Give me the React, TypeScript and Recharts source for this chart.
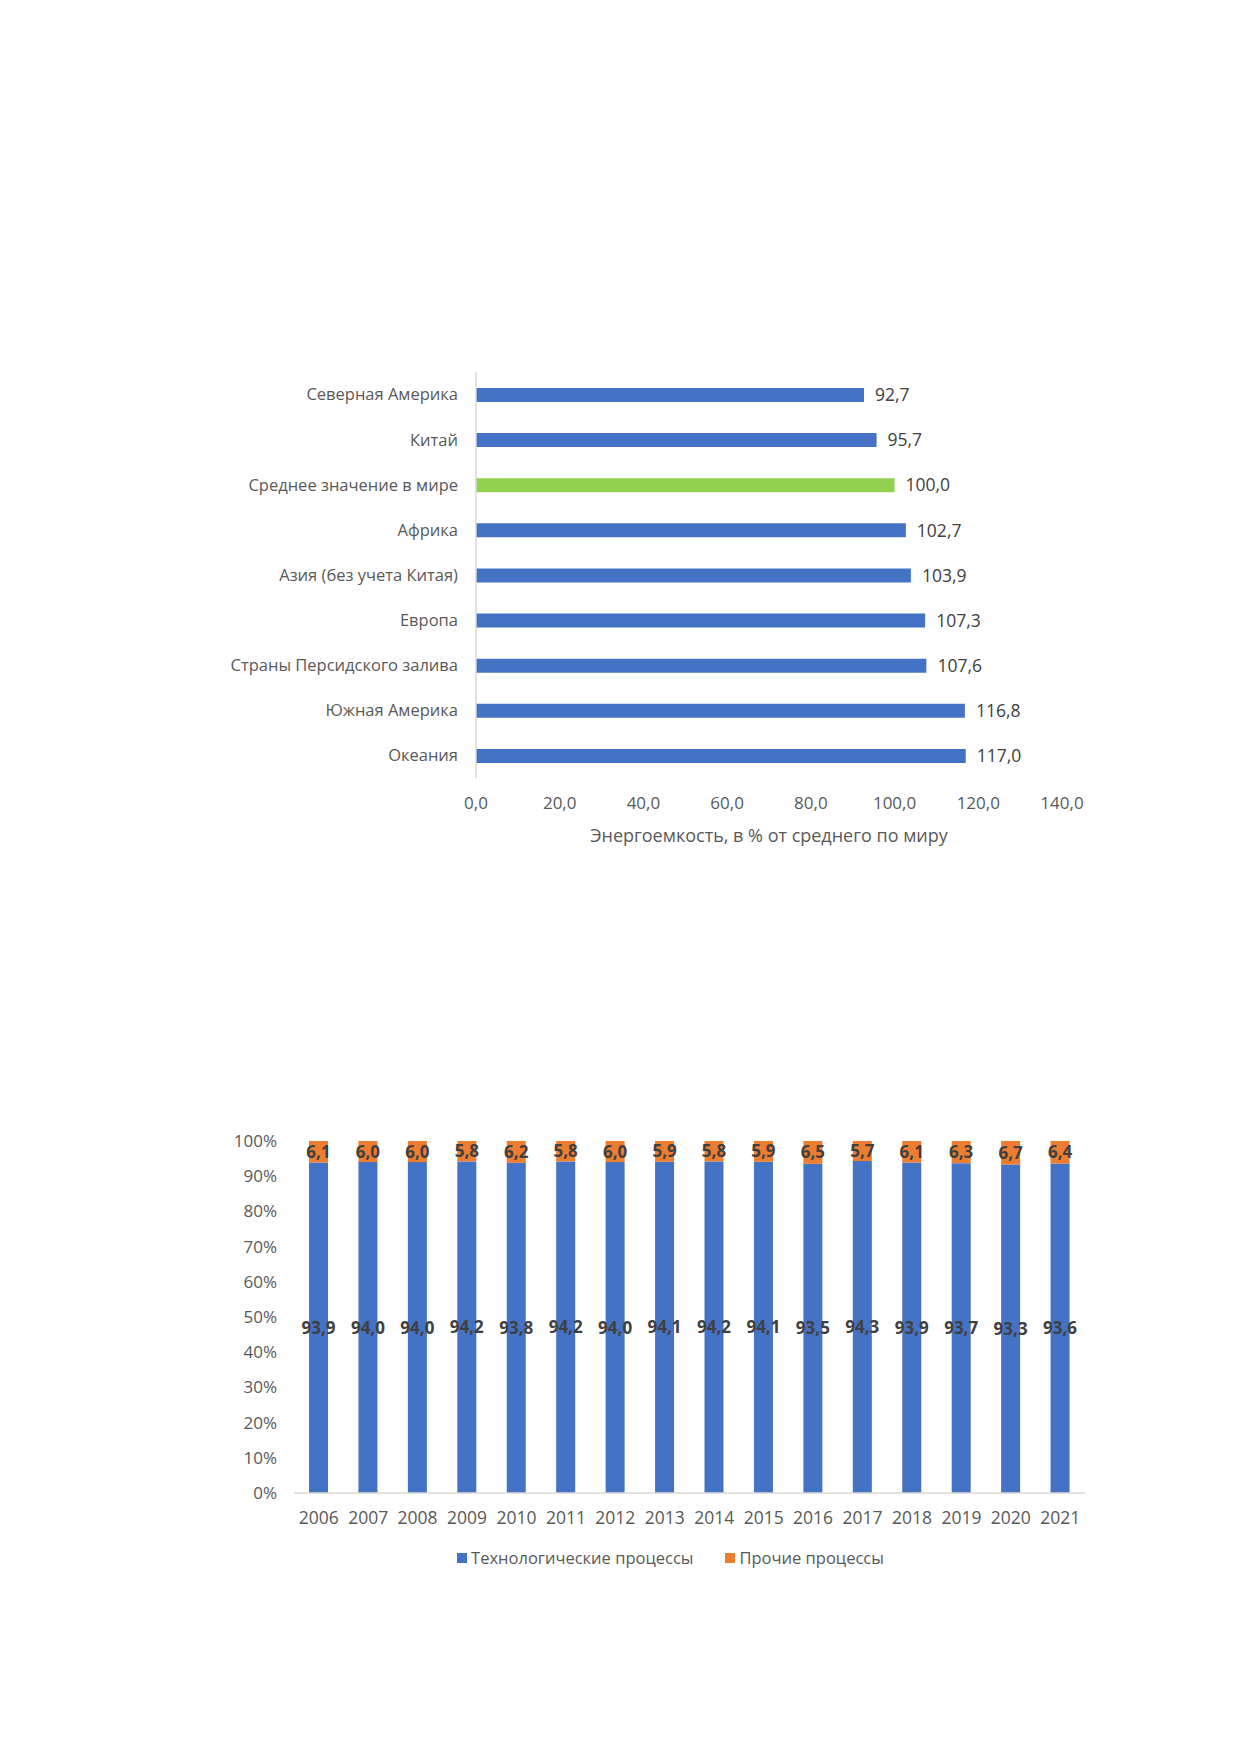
import React from 'react'
import { BarChart, Bar, XAxis, YAxis, Cell, LabelList, Legend } from 'recharts'

const FONT = '"Open Sans", sans-serif'

// energy intensity by region, % of world average
const regions = [
  'Северная Америка',
  'Китай',
  'Среднее значение в мире',
  'Африка',
  'Азия (без учета Китая)',
  'Европа',
  'Страны Персидского залива',
  'Южная Америка',
  'Океания'
]
const intensity = [92.7, 95.7, 100.0, 102.7, 103.9, 107.3, 107.6, 116.8, 117.0]
const intensityTicks = [0, 20, 40, 60, 80, 100, 120, 140]
const highlighted = 'Среднее значение в мире'

// share of processes by year, %
const years = ['2006', '2007', '2008', '2009', '2010', '2011', '2012', '2013', '2014', '2015', '2016', '2017', '2018', '2019', '2020', '2021']
const techShare = [93.9, 94.0, 94.0, 94.2, 93.8, 94.2, 94.0, 94.1, 94.2, 94.1, 93.5, 94.3, 93.9, 93.7, 93.3, 93.6]
const otherShare = [6.1, 6.0, 6.0, 5.8, 6.2, 5.8, 6.0, 5.9, 5.8, 5.9, 6.5, 5.7, 6.1, 6.3, 6.7, 6.4]
const shareTicks = [0, 10, 20, 30, 40, 50, 60, 70, 80, 90, 100]
const techName = 'Технологические процессы'
const otherName = 'Прочие процессы'
const legendOrder = [techName, otherName]

const comma = (v: any) => Number(v).toFixed(1).replace('.', ',')

function RegionChart() {
  const data = regions.map((name, i) => ({ name, value: intensity[i] }))
  return (
    <div style={{ position: 'absolute', left: -8, top: 322, width: 1240, height: 540 }}>
      <BarChart
        width={1240}
        height={540}
        data={data}
        layout="vertical"
        margin={{ top: 42, right: 178, left: 216, bottom: 22 }}
      >
        <XAxis
          type="number"
          domain={[0, 140]}
          ticks={intensityTicks}
          tickFormatter={comma}
          axisLine={false}
          tickLine={false}
          tickMargin={13}
          height={70}
          tick={{ fontSize: 17, fill: '#595959', fontFamily: FONT }}
          label={{
            value: 'Энергоемкость, в % от среднего по миру',
            position: 'insideBottom',
            offset: 6,
            fontSize: 18,
            fill: '#595959',
            fontFamily: FONT
          }}
        />
        <YAxis
          type="category"
          dataKey="name"
          width={260}
          axisLine={{ stroke: '#d9d9d9', strokeWidth: 1.5 }}
          tickLine={false}
          tickMargin={12}
          tick={{ fontSize: 16.5, fill: '#595959', fontFamily: FONT }}
        />
        <Bar dataKey="value" barSize={14} isAnimationActive={false}>
          {data.map(d => (
            <Cell key={d.name} fill={d.name === highlighted ? '#92D050' : '#4472C4'} />
          ))}
          <LabelList
            dataKey="value"
            position="right"
            offset={11}
            formatter={comma}
            style={{ fontSize: 17.5, fill: '#404040', fontFamily: FONT }}
          />
        </Bar>
      </BarChart>
    </div>
  )
}

function ShareLegend(props: any) {
  const items = [...(props.payload || [])].sort(
    (a: any, b: any) => legendOrder.indexOf(a.value) - legendOrder.indexOf(b.value)
  )
  return (
    <div style={{ display: 'flex', justifyContent: 'center', gap: 32, paddingLeft: 22, fontFamily: FONT, fontSize: 16.5, color: '#595959', lineHeight: '24px' }}>
      {items.map((it: any) => (
        <span key={it.value} style={{ display: 'flex', alignItems: 'center' }}>
          <span style={{ width: 10, height: 10, background: it.color, marginRight: 4, display: 'inline-block' }} />
          {it.value}
        </span>
      ))}
    </div>
  )
}

function ShareChart() {
  const data = years.map((year, i) => ({ year, tech: techShare[i], other: otherShare[i] }))
  const labelStyle = { fontSize: 17, fill: '#404040', fontWeight: 700, fontFamily: FONT }
  return (
    <div style={{ position: 'absolute', left: -8, top: 1090, width: 1240, height: 500 }}>
      <BarChart
        width={1240}
        height={500}
        data={data}
        margin={{ top: 43, right: 155, left: 234, bottom: 28 }}
      >
        <XAxis
          dataKey="year"
          axisLine={{ stroke: '#d9d9d9', strokeWidth: 1.5 }}
          tickLine={false}
          tickMargin={13}
          height={53}
          tick={{ fontSize: 17.5, fill: '#595959', fontFamily: FONT }}
        />
        <YAxis
          domain={[0, 100]}
          ticks={shareTicks}
          tickFormatter={(v: any) => v + '%'}
          width={60}
          axisLine={false}
          tickLine={false}
          tickMargin={11}
          tick={{ fontSize: 17, fill: '#595959', fontFamily: FONT }}
        />
        <Legend verticalAlign="bottom" content={<ShareLegend />} />
        <Bar dataKey="tech" name={techName} stackId="s" fill="#4472C4" barSize={19} isAnimationActive={false}>
          <LabelList dataKey="tech" position="center" formatter={comma} style={labelStyle} />
        </Bar>
        <Bar dataKey="other" name={otherName} stackId="s" fill="#ED7D31" barSize={19} isAnimationActive={false}>
          <LabelList dataKey="other" position="center" formatter={comma} style={labelStyle} />
        </Bar>
      </BarChart>
    </div>
  )
}

export default function App() {
  return (
    <div style={{ position: 'relative', width: 1240, height: 1754, background: '#fff' }}>
      <RegionChart />
      <ShareChart />
    </div>
  )
}
